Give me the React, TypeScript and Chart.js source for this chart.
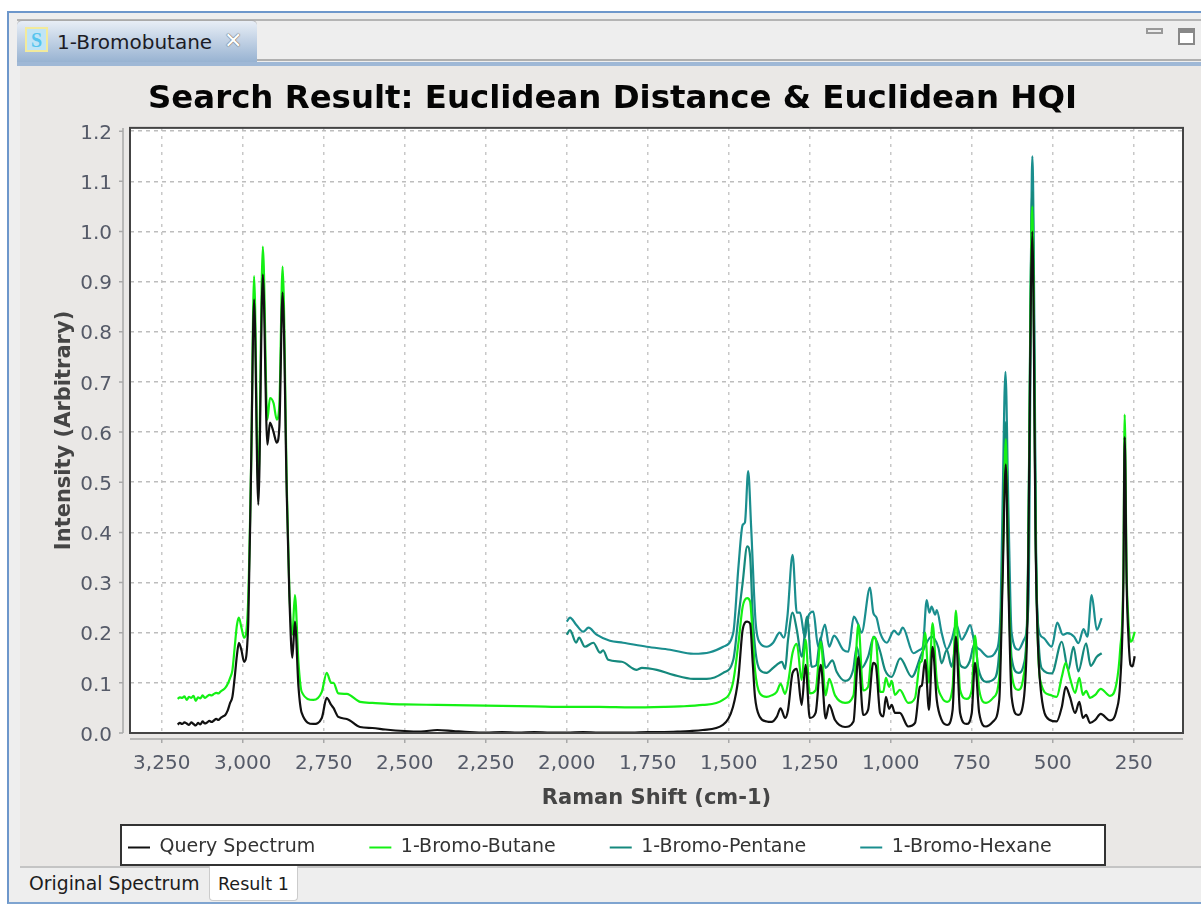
import React, { useEffect, useRef } from "react";
import { Chart, registerables } from "chart.js";

Chart.register(...registerables);

const titleText = "Search Result: Euclidean Distance & Euclidean HQI";
const xAxisLabel = "Raman Shift (cm-1)";
const yAxisLabel = "Intensity (Arbitrary)";
const xTickValues = [3250,3000,2750,2500,2250,2000,1750,1500,1250,1000,750,500,250];
const yTickStep = 0.1;
const seriesNames = ["Query Spectrum", "1-Bromo-Butane", "1-Bromo-Pentane", "1-Bromo-Hexane"];
const seriesColors = ["#111111", "#14f014", "#15897d", "#1a8e8e"];

const queryShift = [3201,3194,3187,3180,3173,3166,3159,3152,3145,3138,3131,3124,3117,3110,3103,3096,3089,3082,3075,3068,3061,3054,3047,3039,3032,3025,3018,3012,3004,2996,2983,2974,2965,2952,2938,2924,2916,2905,2895,2887,2877,2864,2856,2847,2839,2828,2818,2782,2756,2741,2727,2720,2705,2679,2638,2600,2560,2500,2450,2400,2350,2300,2250,2200,2150,2100,2050,2000,1950,1900,1850,1800,1750,1700,1650,1620,1580,1518,1487,1470,1457,1443,1434,1426,1419,1404,1383,1368,1352,1340,1326,1317,1303,1290,1275,1263,1250,1232,1216,1201,1190,1172,1141,1115,1100,1085,1070,1054,1046,1033,1023,1015,1005,997,987,972,946,925,910,904,894,882,871,858,843,826,809,799,786,766,750,740,727,706,684,665,655,645,637,627,607,591,578,563,552,539,509,488,472,460,447,431,418,407,397,385,369,352,323,303,292,282,278,272,267,260,254,247];
const queryValues = [.017,.02,.018,.021,.019,.016,.021,.018,.015,.02,.017,.023,.019,.021,.024,.022,.025,.028,.026,.03,.033,.036,.044,.06,.072,.11,.155,.18,.165,.142,.22,.539,.864,.455,.914,.575,.619,.6,.579,.611,.878,.471,.271,.15,.222,.092,.04,.018,.03,.07,.056,.05,.032,.028,.012,.01,.007,.004,.003,.006,.004,.002,.001,.002,.001,.002,.001,.001,.002,.001,.001,.001,.002,.002,.003,.004,.006,.016,.052,.112,.206,.222,.218,.14,.072,.032,.023,.022,.032,.049,.03,.046,.12,.128,.056,.136,.03,.04,.136,.029,.056,.026,.012,.023,.152,.036,.046,.14,.135,.04,.033,.072,.048,.056,.04,.04,.013,.02,.092,.095,.146,.046,.172,.066,.026,.016,.046,.192,.04,.018,.04,.14,.04,.013,.023,.066,.3,.535,.3,.072,.036,.06,.232,1.0,.34,.1,.026,.023,.052,.092,.072,.04,.062,.03,.036,.02,.026,.038,.025,.046,.1,.3,.59,.3,.2,.136,.133,.153];

const butaneShift = [3201,3194,3187,3180,3173,3166,3159,3152,3145,3138,3131,3124,3117,3110,3103,3096,3089,3082,3075,3068,3061,3054,3047,3039,3032,3025,3018,3012,3004,2996,2984,2974,2965,2952,2938,2924,2916,2905,2895,2887,2877,2864,2856,2847,2839,2828,2818,2782,2756,2741,2727,2720,2705,2679,2638,2600,2550,2500,2400,2300,2200,2100,2000,1900,1800,1700,1650,1580,1518,1487,1470,1457,1443,1434,1426,1419,1404,1383,1368,1352,1340,1326,1317,1303,1290,1275,1263,1250,1232,1216,1201,1190,1172,1141,1115,1100,1085,1070,1054,1046,1033,1023,1015,1005,997,987,972,946,925,910,904,894,882,871,858,843,826,809,799,786,766,750,740,727,706,684,665,655,645,637,627,607,591,578,563,552,539,509,488,472,460,447,431,418,407,397,385,369,352,323,303,292,282,278,272,267,260,254,247];
const butaneValues = [.068,.071,.07,.073,.066,.072,.07,.074,.064,.071,.069,.075,.07,.073,.076,.075,.078,.08,.079,.083,.086,.09,.097,.11,.125,.17,.215,.23,.21,.19,.252,.54,.911,.49,.97,.625,.668,.658,.625,.655,.93,.49,.28,.196,.275,.14,.082,.066,.082,.12,.1,.1,.079,.078,.062,.06,.058,.057,.056,.055,.054,.053,.052,.052,.051,.052,.053,.056,.066,.1,.18,.252,.269,.262,.192,.126,.079,.072,.075,.082,.098,.078,.1,.16,.178,.106,.186,.079,.085,.182,.075,.108,.075,.06,.075,.216,.085,.092,.191,.186,.082,.082,.11,.092,.104,.076,.086,.06,.07,.14,.144,.2,.1,.219,.106,.072,.062,.092,.244,.086,.068,.086,.194,.086,.06,.07,.112,.32,.586,.32,.12,.086,.11,.25,1.05,.36,.106,.076,.072,.112,.14,.11,.08,.11,.076,.084,.07,.076,.088,.074,.1,.166,.32,.635,.32,.23,.182,.186,.202];

const pentaneShift = [2000,1990,1971,1962,1944,1918,1897,1888,1872,1830,1784,1768,1722,1671,1609,1568,1517,1486,1470,1457,1443,1434,1426,1417,1404,1383,1363,1352,1336,1326,1317,1303,1290,1275,1258,1244,1230,1217,1201,1180,1167,1141,1116,1105,1090,1070,1052,1033,1018,997,971,935,904,874,853,843,827,812,798,786,771,757,740,730,706,678,663,655,645,637,627,606,589,578,563,552,545,534,503,472,452,436,421,397,383,364,349];
const pentaneValues = [.196,.205,.18,.19,.172,.18,.16,.165,.146,.142,.126,.13,.126,.116,.108,.108,.12,.146,.232,.3,.372,.352,.232,.16,.126,.12,.13,.136,.142,.128,.186,.24,.206,.152,.232,.132,.135,.19,.13,.145,.122,.104,.126,.172,.13,.152,.192,.163,.126,.112,.149,.112,.159,.192,.17,.139,.166,.132,.18,.136,.13,.142,.18,.13,.102,.11,.186,.35,.62,.35,.15,.12,.138,.26,1.08,.36,.2,.129,.119,.182,.126,.172,.123,.179,.134,.152,.159];

const hexaneShift = [2000,1990,1971,1949,1933,1908,1867,1826,1753,1681,1609,1558,1517,1486,1470,1457,1450,1440,1431,1417,1404,1383,1363,1343,1330,1319,1303,1290,1280,1265,1255,1239,1224,1203,1190,1175,1147,1131,1114,1100,1090,1064,1054,1044,1033,1012,990,976,963,930,910,901,889,881,874,863,858,843,827,812,798,781,768,755,740,724,699,673,661,655,646,637,627,606,589,575,563,549,539,527,503,486,469,455,434,421,405,393,380,364,349];
const hexaneValues = [.222,.23,.216,.202,.21,.196,.184,.18,.172,.166,.158,.161,.172,.2,.332,.415,.42,.522,.412,.22,.18,.172,.18,.2,.19,.232,.355,.24,.24,.19,.232,.242,.172,.216,.172,.194,.166,.162,.232,.216,.2,.29,.24,.23,.2,.18,.204,.196,.21,.159,.166,.172,.265,.24,.252,.236,.245,.2,.167,.186,.216,.186,.199,.215,.176,.166,.152,.166,.245,.45,.72,.45,.2,.166,.186,.26,1.15,.26,.196,.189,.172,.22,.196,.199,.192,.179,.207,.192,.275,.206,.229];

const allShifts = [queryShift, butaneShift, pentaneShift, hexaneShift];
const allValues = [queryValues, butaneValues, pentaneValues, hexaneValues];

const plotFrame = {
  id: "plotFrame",
  beforeInit(chart: any) {
    const legend = chart.legend;
    const fit = legend.fit;
    legend.fit = function () {
      fit.call(legend);
      legend.height = 40;
    };
  },
  beforeDraw(chart: any) {
    const { ctx, chartArea: a } = chart;
    ctx.save();
    ctx.fillStyle = "#ffffff";
    ctx.fillRect(a.left, a.top, a.right - a.left, a.bottom - a.top);
    ctx.fillRect(121, 825, 984, 40);
    ctx.strokeStyle = "#333333";
    ctx.lineWidth = 2;
    ctx.strokeRect(121, 825, 984, 40);
    ctx.restore();
    chart.legend.left = 74;
    chart.legend.top = 784;
  },
  afterDraw(chart: any) {
    const { ctx, chartArea: a, scales } = chart;
    ctx.save();
    ctx.strokeStyle = "#444444";
    ctx.lineWidth = 2;
    ctx.strokeRect(a.left, a.top, a.right - a.left, a.bottom - a.top);
    ctx.strokeStyle = "#a8a8a8";
    ctx.lineWidth = 1.5;
    ctx.beginPath();
    ctx.moveTo(a.left - 7, a.top);
    ctx.lineTo(a.left - 7, a.bottom);
    ctx.moveTo(a.left, a.bottom + 6);
    ctx.lineTo(a.right, a.bottom + 6);
    for (const t of scales.y.ticks) {
      const y = scales.y.getPixelForValue(t.value);
      ctx.moveTo(a.left - 11, y);
      ctx.lineTo(a.left - 7, y);
    }
    for (const t of scales.x.ticks) {
      const x = scales.x.getPixelForValue(t.value);
      ctx.moveTo(x, a.bottom + 6);
      ctx.lineTo(x, a.bottom + 10);
    }
    ctx.stroke();
    ctx.restore();
  },
};

const box = (s: React.CSSProperties): React.CSSProperties => ({ position: "absolute", ...s });
const uiFont = "'DejaVu Sans', sans-serif";

export default function App() {
  const ref = useRef<HTMLCanvasElement>(null);
  useEffect(() => {
    document.body.style.margin = "0";
    const chart = new Chart(ref.current!, {
      type: "line",
      data: {
        datasets: seriesNames.map((name, i) => ({
          label: name,
          data: allShifts[i].map((x, j) => ({ x, y: allValues[i][j] })),
          borderColor: seriesColors[i],
          backgroundColor: seriesColors[i],
          borderWidth: 2.2,
          pointRadius: 0,
          cubicInterpolationMode: "monotone",
          fill: false,
        })),
      },
      options: {
        animation: false,
        responsive: false,
        layout: { autoPadding: false, padding: { left: 42, right: 18, top: 78, bottom: 40 } },
        plugins: {
          title: {
            display: true,
            text: titleText,
            color: "#050505",
            font: { family: "'DejaVu Sans'", size: 32.4, weight: "bold" },
            padding: { top: 2, bottom: 9 },
          },
          legend: {
            position: "bottom",
            align: "start",
            labels: {
              boxWidth: 22,
              boxHeight: 2,
              padding: 54,
              color: "#333333",
              font: { family: "'DejaVu Sans'", size: 19 },
              generateLabels: (c: any) =>
                (Chart as any).defaults.plugins.legend.labels.generateLabels(c).map((l: any) => ({ ...l, lineWidth: 0 })),
            },
          },
          tooltip: { enabled: false },
        },
        scales: {
          x: {
            type: "linear",
            reverse: true,
            min: 98,
            max: 3348,
            afterFit: (s: any) => { s.height = 92; },
            afterBuildTicks: (s: any) => { s.ticks = xTickValues.map((value) => ({ value })); },
            grid: { color: "#c8c8c8", lineWidth: 1.5, drawTicks: false },
            border: { display: false, dash: [3, 5] },
            ticks: {
              maxRotation: 0,
              autoSkip: false,
              padding: 19,
              color: "#555a68",
              font: { family: "'DejaVu Sans'", size: 20 },
              callback: (v: any) => Number(v).toLocaleString("en-US"),
            },
            title: {
              display: true,
              text: xAxisLabel,
              color: "#454545",
              font: { family: "'DejaVu Sans'", size: 21, weight: "bold" },
              padding: { top: 0, bottom: 14 },
            },
          },
          y: {
            min: 0,
            max: 1.2066,
            afterFit: (s: any) => { s.width = 88; },
            grid: { color: "#bdbdbd", lineWidth: 1.5, drawTicks: false },
            border: { display: false, dash: [4, 4] },
            ticks: {
              stepSize: yTickStep,
              includeBounds: false,
              padding: 18,
              labelOffset: 2.5,
              color: "#555a68",
              font: { family: "'DejaVu Sans'", size: 20 },
              callback: (v: any) => Number(v).toFixed(1),
            },
            title: {
              display: true,
              text: yAxisLabel,
              color: "#454545",
              font: { family: "'DejaVu Sans'", size: 21, weight: "bold" },
              padding: { top: 10, bottom: 0 },
            },
          },
        },
      },
      plugins: [plotFrame],
    } as any);
    return () => chart.destroy();
  }, []);

  return (
    <div style={box({ left: 0, top: 0, width: 1201, height: 905, background: "#ffffff", overflow: "hidden", fontFamily: uiFont })}>
      <div style={box({ left: 7, top: 11, width: 1194, height: 893, background: "#eeeeee", borderLeft: "2px solid #6d97cb", borderTop: "2px solid #6d97cb", borderBottom: "2px solid #7fa4d0", boxSizing: "border-box" })} />
      <div style={box({ left: 17, top: 19, width: 1184, height: 2, background: "#b4b4b4" })} />
      <div style={box({ left: 17, top: 20, width: 240, height: 44, borderRadius: "5px 5px 0 0", background: "linear-gradient(#e8eef6,#94b0d0)", borderTop: "1px solid #aaa", boxSizing: "border-box" })} />
      <div style={box({ left: 257, top: 59, width: 944, height: 2, background: "#b0b0b0" })} />
      <div style={box({ left: 17, top: 62, width: 1184, height: 4, background: "#9fb8d6" })} />
      <div style={box({ left: 25, top: 27, width: 23, height: 25, background: "#bfe4f6", border: "2px solid #f2ea9c", boxSizing: "border-box", color: "#55c4ee", font: "bold 20px 'Liberation Serif'", textAlign: "center", lineHeight: "22px" })}>S</div>
      <div style={box({ left: 57, top: 28, color: "#1c1c26", fontSize: 20, lineHeight: "28px" })}>1-Bromobutane</div>
      <div style={box({ left: 224, top: 28, color: "#fff", fontSize: 22, lineHeight: "26px", fontWeight: 700, textShadow: "0 0 1px #555,0 0 1px #555" })}>✕</div>
      <div style={box({ left: 1146, top: 28, width: 17, height: 6, border: "2px solid #999", background: "#eee", boxSizing: "border-box" })} />
      <div style={box({ left: 1178, top: 28, width: 17, height: 17, border: "2px solid #888", borderTopWidth: 5, background: "#fff", boxSizing: "border-box" })} />
      <div style={box({ left: 20, top: 66, width: 1181, height: 800, background: "#eae8e6" })} />
      <div style={box({ left: 20, top: 866, width: 1181, height: 2, background: "#c4c4c4" })} />
      <div style={box({ left: 209, top: 866, width: 89, height: 35, background: "#ffffff", border: "1px solid #ccc", borderTop: "none", borderRadius: "0 0 4px 4px", boxSizing: "border-box" })} />
      <div style={box({ left: 29, top: 870, color: "#1c1c1c", fontSize: 18.8, lineHeight: "28px" })}>Original Spectrum</div>
      <div style={box({ left: 218, top: 870, color: "#1c1c1c", fontSize: 17.5, lineHeight: "28px" })}>Result 1</div>
      <canvas ref={ref} width={1201} height={905} style={box({ left: 0, top: 0, width: 1201, height: 905, display: "block", filter: "blur(0.45px)" })} />
    </div>
  );
}
